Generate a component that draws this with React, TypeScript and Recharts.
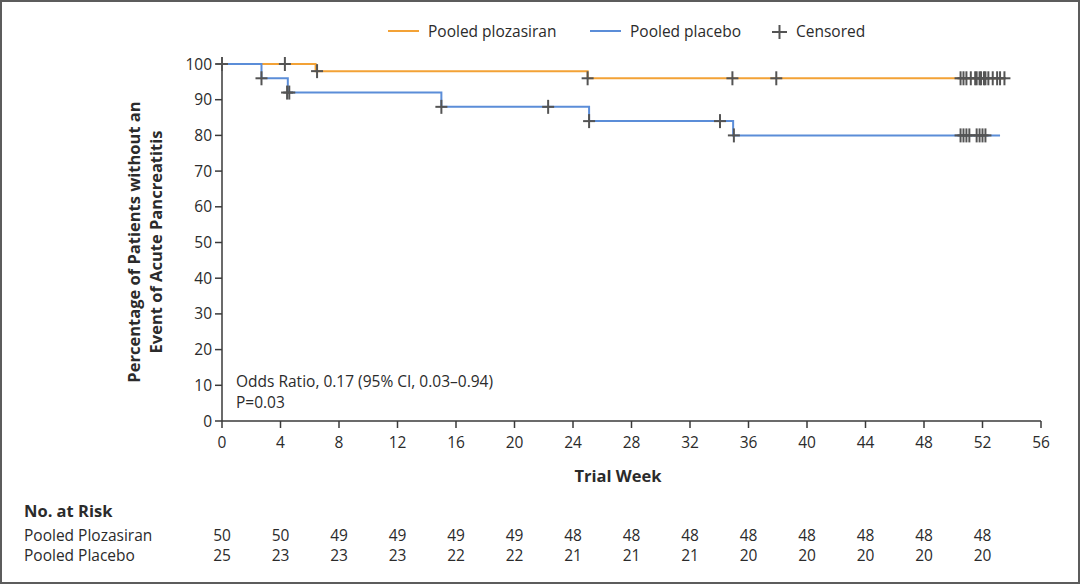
import React from 'react';
import { ComposedChart, Line, Scatter, XAxis, YAxis } from 'recharts';

// step curves (week, % without event)
const plozCurve = [
  { week: 0, pct: 100 },
  { week: 6.4, pct: 98 },
  { week: 25.0, pct: 96 },
  { week: 53.5, pct: 96 },
];
const placeboCurve = [
  { week: 0, pct: 100 },
  { week: 2.7, pct: 96 },
  { week: 4.5, pct: 92 },
  { week: 15.0, pct: 88 },
  { week: 25.1, pct: 84 },
  { week: 34.95, pct: 80 },
  { week: 53.2, pct: 80 },
];

// censored marks
const plozCensored = [
  { week: 0, pct: 100 },
  { week: 4.3, pct: 100 },
  { week: 6.5, pct: 98 },
  { week: 25.0, pct: 96 },
  { week: 34.9, pct: 96 },
  { week: 37.9, pct: 96 },
  { week: 50.5, pct: 96 },
  { week: 50.7, pct: 96 },
  { week: 50.9, pct: 96 },
  { week: 51.2, pct: 96 },
  { week: 51.5, pct: 96 },
  { week: 51.6, pct: 96 },
  { week: 51.8, pct: 96 },
  { week: 51.9, pct: 96 },
  { week: 52.1, pct: 96 },
  { week: 52.2, pct: 96 },
  { week: 52.4, pct: 96 },
  { week: 52.7, pct: 96 },
  { week: 53.0, pct: 96 },
  { week: 53.2, pct: 96 },
  { week: 53.5, pct: 96 },
];
const placeboCensored = [
  { week: 2.7, pct: 96 },
  { week: 4.45, pct: 92 },
  { week: 4.6, pct: 92 },
  { week: 15.0, pct: 88 },
  { week: 22.3, pct: 88 },
  { week: 25.1, pct: 84 },
  { week: 34.05, pct: 84 },
  { week: 35.0, pct: 80 },
  { week: 50.5, pct: 80 },
  { week: 50.7, pct: 80 },
  { week: 50.9, pct: 80 },
  { week: 51.1, pct: 80 },
  { week: 51.6, pct: 80 },
  { week: 51.8, pct: 80 },
  { week: 52.0, pct: 80 },
  { week: 52.2, pct: 80 },
];

const xTicks = [0, 4, 8, 12, 16, 20, 24, 28, 32, 36, 40, 44, 48, 52, 56];
const yTicks = [0, 10, 20, 30, 40, 50, 60, 70, 80, 90, 100];

// number at risk
const riskWeeks = [0, 4, 8, 12, 16, 20, 24, 28, 32, 36, 40, 44, 48, 52];
const riskPloz = [50, 50, 49, 49, 49, 49, 48, 48, 48, 48, 48, 48, 48, 48];
const riskPlacebo = [25, 23, 23, 23, 22, 22, 21, 21, 21, 20, 20, 20, 20, 20];

const ORANGE = '#F3A236';
const BLUE = '#5B8DD8';
const GREY = '#545454';
const TEXT = '#2b2b2b';
const FONT = '"Open Sans", "Noto Sans", sans-serif';

const Cross = (props: any) => {
  const { cx, cy } = props;
  if (cx == null || cy == null) return null;
  return (
    <g stroke={GREY} strokeWidth={2}>
      <line x1={cx - 6} y1={cy} x2={cx + 6} y2={cy} />
      <line x1={cx} y1={cy - 7} x2={cx} y2={cy + 7} />
    </g>
  );
};

// week label plus the number-at-risk rows under it
const WeekTick = (props: any) => {
  const { x, y, payload } = props;
  const i = riskWeeks.indexOf(payload.value);
  return (
    <g fontFamily={FONT} fontSize={15.5} fill={TEXT} textAnchor="middle">
      <text x={x} y={y} dy="0.71em">{payload.value}</text>
      {i >= 0 && (
        <>
          <text x={x} y={535} dominantBaseline="central">{riskPloz[i]}</text>
          <text x={x} y={555} dominantBaseline="central">{riskPlacebo[i]}</text>
        </>
      )}
    </g>
  );
};

export default function App() {
  return (
    <div
      style={{
        position: 'fixed',
        left: 0,
        top: 0,
        width: 1080,
        height: 584,
        background: '#fff',
        fontFamily: FONT,
        boxSizing: 'border-box',
        boxShadow: 'inset 0 0 0 2px #5c5c5c',
      }}
    >
      <div style={{ position: 'absolute', left: 0, top: 0 }}>
        <ComposedChart
          width={1080}
          height={584}
          margin={{ top: 64, right: 39, bottom: 133, left: 162 }}
        >
          <XAxis
            type="number"
            dataKey="week"
            domain={[0, 56]}
            ticks={xTicks}
            interval={0}
            height={30}
            tickSize={7}
            tickMargin={9}
            stroke="#3a3a3a"
            strokeWidth={1.5}
            tick={<WeekTick />}
          />
          <YAxis
            type="number"
            dataKey="pct"
            domain={[0, 100]}
            ticks={yTicks}
            interval={0}
            width={60}
            tickSize={7}
            tickMargin={3}
            stroke="#3a3a3a"
            strokeWidth={1.5}
            tick={{ fill: TEXT, fontSize: 15.5, fontFamily: FONT }}
          />
          <Line
            data={plozCurve}
            dataKey="pct"
            type="stepAfter"
            stroke={ORANGE}
            strokeWidth={2}
            dot={false}
            activeDot={false}
            isAnimationActive={false}
          />
          <Line
            data={placeboCurve}
            dataKey="pct"
            type="stepAfter"
            stroke={BLUE}
            strokeWidth={2}
            dot={false}
            activeDot={false}
            isAnimationActive={false}
          />
          <Scatter data={plozCensored} dataKey="pct" shape={<Cross />} isAnimationActive={false} />
          <Scatter data={placeboCensored} dataKey="pct" shape={<Cross />} isAnimationActive={false} />
        </ComposedChart>
      </div>
      <svg
        width={1080}
        height={584}
        style={{ position: 'absolute', left: 0, top: 0, pointerEvents: 'none' }}
        fontFamily={FONT}
        fill={TEXT}
      >
        {/* frame */}
        <rect x={1} y={1} width={1078} height={582} fill="none" stroke="#5c5c5c" strokeWidth={2} />

        {/* legend */}
        <line x1={388} y1={31} x2={419} y2={31} stroke={ORANGE} strokeWidth={2} />
        <text x={428} y={31} fontSize={15.5} dominantBaseline="central">Pooled plozasiran</text>
        <line x1={590} y1={31} x2={621} y2={31} stroke={BLUE} strokeWidth={2} />
        <text x={630} y={31} fontSize={15.5} dominantBaseline="central">Pooled placebo</text>
        <line x1={772} y1={32} x2={787} y2={32} stroke={GREY} strokeWidth={2} />
        <line x1={779.5} y1={25} x2={779.5} y2={39} stroke={GREY} strokeWidth={2} />
        <text x={796} y={31} fontSize={15.5} dominantBaseline="central">Censored</text>

        {/* y axis title */}
        <g fontSize={16.5} fontWeight="bold" textAnchor="middle">
          <text x={133} y={242} transform="rotate(-90 133 242)" dominantBaseline="central">
            Percentage of Patients without an
          </text>
          <text x={155} y={242} transform="rotate(-90 155 242)" dominantBaseline="central">
            Event of Acute Pancreatitis
          </text>
        </g>

        {/* x axis title */}
        <text x={618} y={475} fontSize={16.5} fontWeight="bold" textAnchor="middle" dominantBaseline="central">
          Trial Week
        </text>

        {/* annotation */}
        <text x={236} y={381} fontSize={15.5} dominantBaseline="central">
          Odds Ratio, 0.17 (95% CI, 0.03–0.94)
        </text>
        <text x={236} y={402} fontSize={15.5} dominantBaseline="central">P=0.03</text>

        {/* risk table labels */}
        <text x={24} y={510} fontSize={16.5} fontWeight="bold" dominantBaseline="central">No. at Risk</text>
        <text x={24} y={535} fontSize={15.5} dominantBaseline="central">Pooled Plozasiran</text>
        <text x={24} y={555} fontSize={15.5} dominantBaseline="central">Pooled Placebo</text>
      </svg>
    </div>
  );
}
